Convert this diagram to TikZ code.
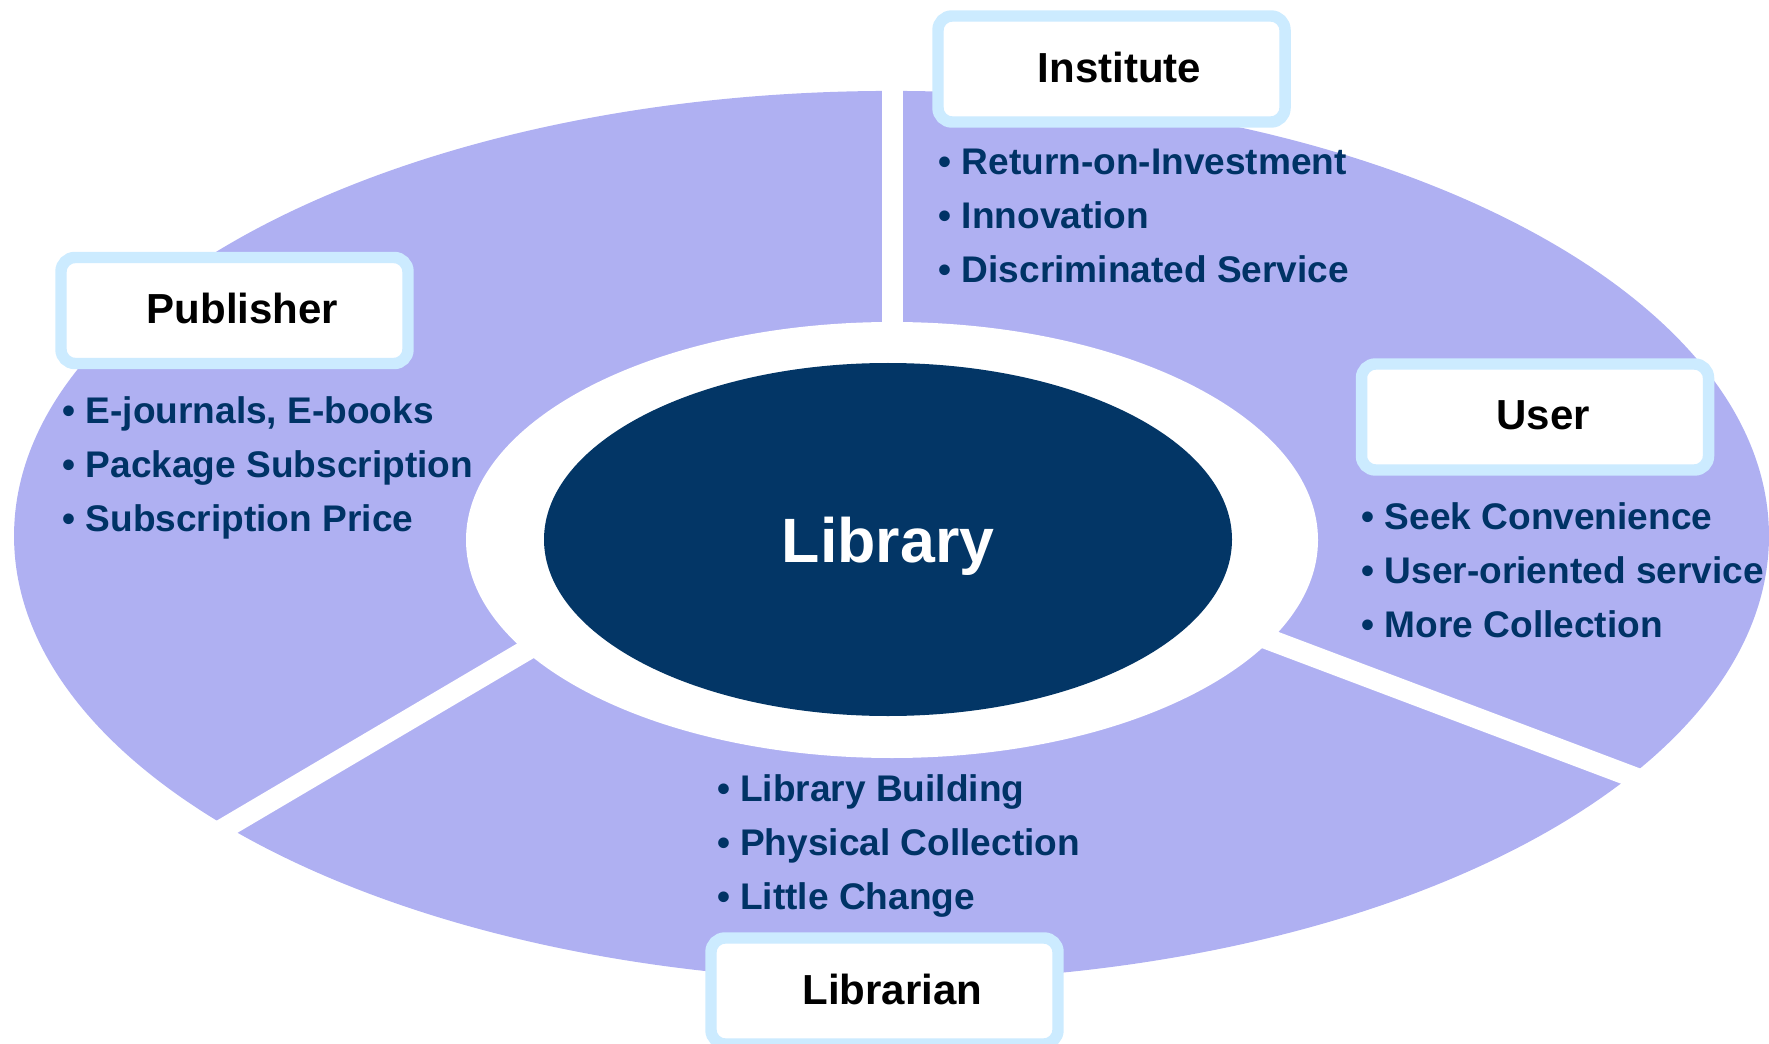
\documentclass[tikz,border=0pt]{standalone}
\usepackage{fontspec}
\setmainfont{Liberation Sans}
\usetikzlibrary{shapes.geometric}
\definecolor{ringfill}{RGB}{175,176,242}
\definecolor{navy}{RGB}{3,54,102}
\definecolor{itemblue}{RGB}{0,51,102}
\definecolor{boxline}{RGB}{204,235,255}
\tikzset{every picture/.style={line width=0.75pt},
  titlebox/.style={draw=boxline, line width=8.6pt, fill=white, rounded corners=10.5pt, minimum width=260.25pt, minimum height=79.5pt, inner sep=0pt, text depth=3pt, text=black, font=\fontsize{31.5}{38}\selectfont\bfseries, execute at begin node=\hspace*{12pt}},
  itemlist/.style={anchor=west, inner sep=0pt, align=left, text=itemblue, font=\fontsize{27.8}{40.5}\selectfont\bfseries},
  gapline/.style={draw=white, line width=15.75pt}}

\begin{document}
\begin{tikzpicture}[x=0.75pt,y=0.75pt,yscale=-1,xscale=1]
\useasboundingbox (0,0) rectangle (1769,1044);

%Shape: Ellipse [outer ring]
\fill [ringfill] (891.5,536) ellipse [x radius=658.1pt, y radius=333.8pt];
%Shape: Ellipse [white ring]
\fill [white] (892,540) ellipse [x radius=319.5pt, y radius=163.5pt];
%Straight Lines [gaps]
\draw [gapline] (892.5,340) -- (892.5,70);
\draw [gapline] (559,631) -- (174,858);
\draw [gapline] (1233,626) -- (1686,797);

%Shape: Ellipse [centre]
\draw (888,539.5) node (library) [ellipse, fill=navy, minimum width=516pt, minimum height=264.75pt, text=white, text depth=0pt, font=\fontsize{47}{56}\selectfont\bfseries] {Library};

% Title boxes
\draw (1111.5,69) node (institute) [titlebox] {Institute};
\draw (234.5,310.5) node (publisher) [titlebox] {Publisher};
\draw (1535,417) node (user) [titlebox] {User};
\draw (884.5,991) node (librarian) [titlebox] {Librarian};

% Text Node
\draw (938,216) node (institutelist) [itemlist] {• Return-on-Investment\\• Innovation\\• Discriminated Service};
% Text Node
\draw (62,468) node (publisherlist) [itemlist] {• E-journals, E-books\\• Package Subscription\\• Subscription Price};
% Text Node
\draw (1361,570) node (userlist) [itemlist] {• Seek Convenience\\• User-oriented service\\• More Collection};
% Text Node
\draw (716.5,845.5) node (librarianlist) [itemlist] {• Library Building\\• Physical Collection\\• Little Change};

\end{tikzpicture}
\end{document}
